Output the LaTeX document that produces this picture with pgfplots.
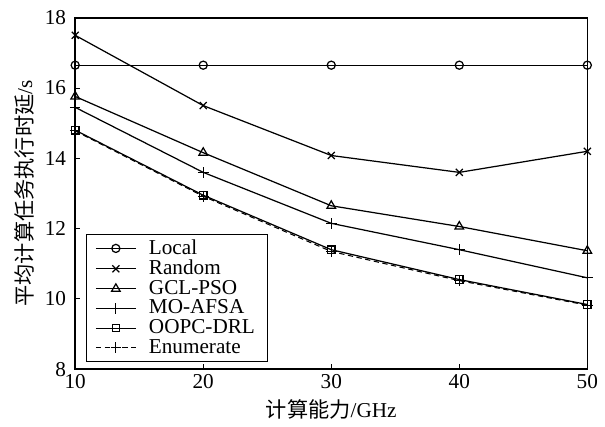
\documentclass[border=0pt]{standalone}
\usepackage{fontspec}
\setmainfont{Liberation Serif}
\newfontfamily\cjk{Noto Sans CJK SC}
\usepackage{pgfplots}
\pgfplotsset{compat=1.18}
\begin{document}
\fontsize{12}{14}\selectfont
\begin{tikzpicture}
\begin{axis}[
  scale only axis,
  width=290pt, height=199pt,
  xmin=10, xmax=50, ymin=8, ymax=18,
  xtick={10,20,30,40,50},
  ytick={8,10,12,14,16,18},
  xtick pos=bottom, ytick pos=left,
  tick align=inside,
  major tick length=3pt,
  /pgf/number format/assume math mode=true,
  axis line style={line width=0.9pt},
  every tick/.style={black, line width=0.6pt},
  xticklabel style={yshift=1pt},
  yticklabel style={xshift=-1pt},
  xlabel={{\cjk 计算能力}/GHz},
  ylabel={{\cjk 平均计算任务执行时延}/s},
  xlabel style={yshift=2pt},
  ylabel style={yshift=-2pt},
  legend cell align=left,
  legend style={at={(axis description cs:0,0)}, anchor=south west, xshift=6pt, yshift=4pt,
    draw=black, line width=0.6pt, inner xsep=5pt, inner ysep=1pt, row sep=-2.6pt, column sep=5pt},
  legend image code/.code={\draw[mark repeat=2,mark phase=2] plot coordinates {(0cm,0cm) (0.4cm,0cm) (0.8cm,0cm)};},
  every axis plot/.append style={black, line width=0.7pt, mark size=2.3pt},
]
\addplot[mark=o, mark options={solid, fill=white}] coordinates {(10,16.65) (20,16.65) (30,16.65) (40,16.65) (50,16.65)};
\addlegendentry{Local}
\addplot[mark=x, mark size=2.8pt, mark options={solid}] coordinates {(10,17.5) (20,15.5) (30,14.08) (40,13.6) (50,14.2)};
\addlegendentry{Random}
\addplot[mark=triangle, mark size=2.8pt, mark options={solid, fill=white}] coordinates {(10,15.76) (20,14.16) (30,12.65) (40,12.06) (50,11.37)};
\addlegendentry{GCL-PSO}
\addplot[mark=+, mark size=3pt, mark options={solid}] coordinates {(10,15.45) (20,13.6) (30,12.15) (40,11.4) (50,10.6)};
\addlegendentry{MO-AFSA}
\addplot[mark=square, mark size=2.1pt, mark options={solid}] coordinates {(10,14.8) (20,12.95) (30,11.4) (40,10.55) (50,9.84)};
\addlegendentry{OOPC-DRL}
\addplot[densely dashed, line width=0.6pt, mark=+, mark size=3pt, mark options={solid}] coordinates {(10,14.78) (20,12.92) (30,11.35) (40,10.52) (50,9.82)};
\addlegendentry{Enumerate}
\end{axis}
\path ([xshift=-4pt,yshift=2pt]current bounding box.north west);
\end{tikzpicture}
\end{document}
